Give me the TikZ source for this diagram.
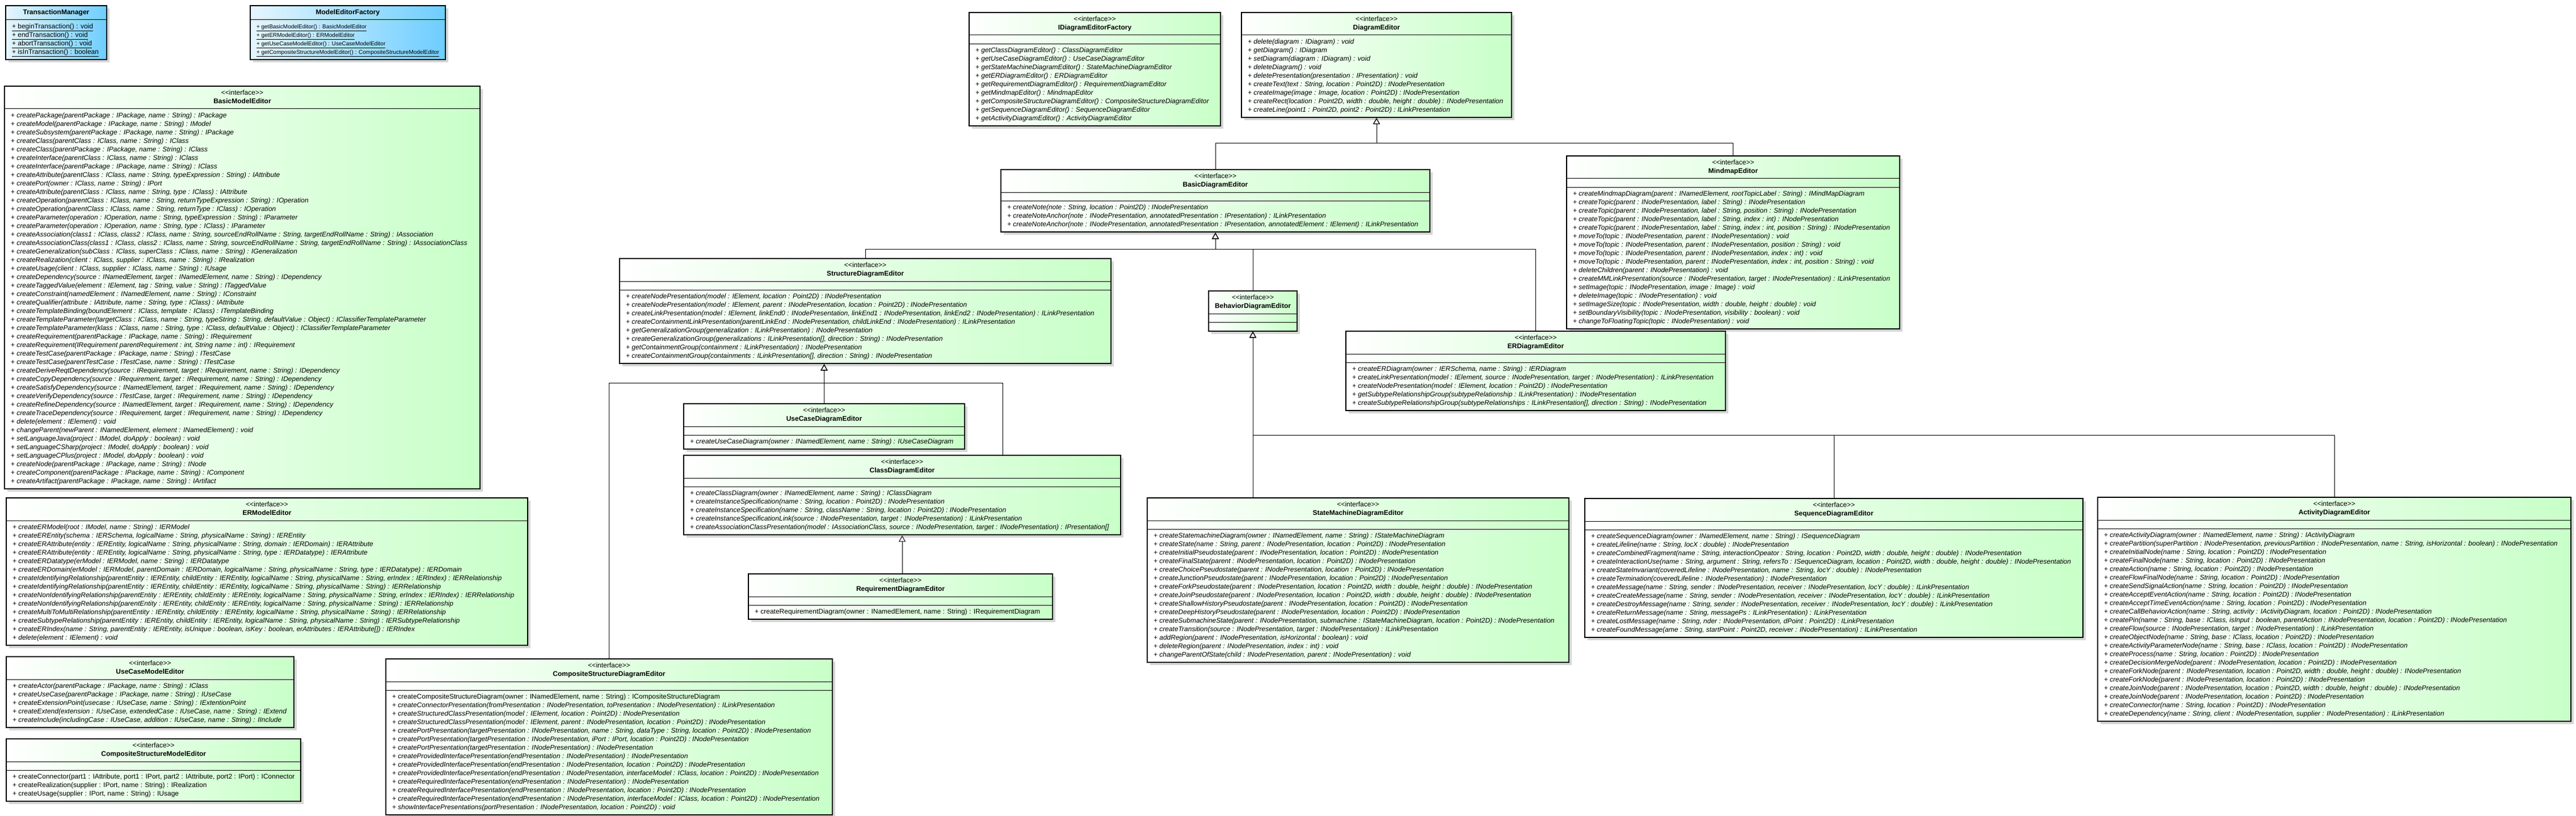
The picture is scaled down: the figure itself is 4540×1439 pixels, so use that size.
\documentclass[tikz,border=0pt]{standalone}
\usepackage{fontspec}
\setmainfont{Liberation Sans}
\usepackage{tikz}
\usetikzlibrary{shapes.multipart, shadows, arrows.meta, calc, positioning}
\definecolor{umlgreen}{RGB}{200,255,200}
\definecolor{umlblue}{RGB}{110,205,255}

\begin{document}
\begin{tikzpicture}[x=1pt, y=-1pt]
    \useasboundingbox (0, 0) rectangle (4540, 1439);
    % Setup the style for the classes
        \tikzset{class style/.style={rectangle split,
                                     rectangle split parts=3,
                                     rectangle split draw splits=false,
                                     rectangle split part align={center, left, left},
                                     anchor=north west,
                                     draw, line width=2pt,
                                     inner xsep=11pt, inner ysep=4pt,
                                     left color=white, right color=umlgreen,
                                     drop shadow={shadow xshift=5pt, shadow yshift=-5pt, fill=black!16, opacity=1},
                                     font=\fontsize{12}{15}\selectfont},
                 model style/.style={class style, rectangle split parts=2},
                 util style/.style={model style, left color=umlblue!18!white, right color=umlblue},
                 split style/.style={line width=1pt},
                 gen style/.style={line width=1pt, -{Triangle[open, length=11pt, width=12pt]}}}
        % Draw the utility classes
        \node[util style, minimum width=178pt] at (9, 9) (tm)
            {\begin{tabular}{@{}c@{}}\textbf{TransactionManager}\end{tabular}
             \nodepart{two}\begin{tabular}{@{}l@{}}
             \underline{+ beginTransaction() : void}\\
             \underline{+ endTransaction() : void}\\
             \underline{+ abortTransaction() : void}\\
             \underline{+ isInTransaction() : boolean}
             \end{tabular}};
        \node[util style, minimum width=300pt, font=\fontsize{10}{15}\selectfont] at (440, 9) (mef)
            {\fontsize{12}{15}\selectfont\begin{tabular}{@{}c@{}}\textbf{ModelEditorFactory}\end{tabular}
             \nodepart{two}\begin{tabular}{@{}l@{}}
             \underline{+ getBasicModelEditor() : BasicModelEditor}\\
             \underline{+ getERModelEditor() : ERModelEditor}\\
             \underline{+ getUseCaseModelEditor() : UseCaseModelEditor}\\
             \underline{+ getCompositeStructureModelEditor() : CompositeStructureModelEditor}
             \end{tabular}};
        % Draw the model editors
        \node[model style, minimum width=838pt] at (7, 151) (bme)
            {\begin{tabular}{@{}c@{}}<{}<interface>{}>\\\textbf{BasicModelEditor}\end{tabular}
             \nodepart{two}\itshape\begin{tabular}{@{}l@{}}
             + createPackage(parentPackage : IPackage, name : String) : IPackage\\
             + createModel(parentPackage : IPackage, name : String) : IModel\\
             + createSubsystem(parentPackage : IPackage, name : String) : IPackage\\
             + createClass(parentClass : IClass, name : String) : IClass\\
             + createClass(parentPackage : IPackage, name : String) : IClass\\
             + createInterface(parentClass : IClass, name : String) : IClass\\
             + createInterface(parentPackage : IPackage, name : String) : IClass\\
             + createAttribute(parentClass : IClass, name : String, typeExpression : String) : IAttribute\\
             + createPort(owner : IClass, name : String) : IPort\\
             + createAttribute(parentClass : IClass, name : String, type : IClass) : IAttribute\\
             + createOperation(parentClass : IClass, name : String, returnTypeExpression : String) : IOperation\\
             + createOperation(parentClass : IClass, name : String, returnType : IClass) : IOperation\\
             + createParameter(operation : IOperation, name : String, typeExpression : String) : IParameter\\
             + createParameter(operation : IOperation, name : String, type : IClass) : IParameter\\
             + createAssociation(class1 : IClass, class2 : IClass, name : String, sourceEndRollName : String, targetEndRollName : String) : IAssociation\\
             + createAssociationClass(class1 : IClass, class2 : IClass, name : String, sourceEndRollName : String, targetEndRollName : String) : IAssociationClass\\
             + createGeneralization(subClass : IClass, superClass : IClass, name : String) : IGeneralization\\
             + createRealization(client : IClass, supplier : IClass, name : String) : IRealization\\
             + createUsage(client : IClass, supplier : IClass, name : String) : IUsage\\
             + createDependency(source : INamedElement, target : INamedElement, name : String) : IDependency\\
             + createTaggedValue(element : IElement, tag : String, value : String) : ITaggedValue\\
             + createConstraint(namedElement : INamedElement, name : String) : IConstraint\\
             + createQualifier(attribute : IAttribute, name : String, type : IClass) : IAttribute\\
             + createTemplateBinding(boundElement : IClass, template : IClass) : ITemplateBinding\\
             + createTemplateParameter(targetClass : IClass, name : String, typeString : String, defaultValue : Object) : IClassifierTemplateParameter\\
             + createTemplateParameter(klass : IClass, name : String, type : IClass, defaultValue : Object) : IClassifierTemplateParameter\\
             + createRequirement(parentPackage : IPackage, name : String) : IRequirement\\
             + createRequirement(IRequirement parentRequirement : int, String name : int) : IRequirement\\
             + createTestCase(parentPackage : IPackage, name : String) : ITestCase\\
             + createTestCase(parentTestCase : ITestCase, name : String) : ITestCase\\
             + createDeriveReqtDependency(source : IRequirement, target : IRequirement, name : String) : IDependency\\
             + createCopyDependency(source : IRequirement, target : IRequirement, name : String) : IDependency\\
             + createSatisfyDependency(source : INamedElement, target : IRequirement, name : String) : IDependency\\
             + createVerifyDependency(source : ITestCase, target : IRequirement, name : String) : IDependency\\
             + createRefineDependency(source : INamedElement, target : IRequirement, name : String) : IDependency\\
             + createTraceDependency(source : IRequirement, target : IRequirement, name : String) : IDependency\\
             + delete(element : IElement) : void\\
             + changeParent(newParent : INamedElement, element : INamedElement) : void\\
             + setLanguageJava(project : IModel, doApply : boolean) : void\\
             + setLanguageCSharp(project : IModel, doApply : boolean) : void\\
             + setLanguageCPlus(project : IModel, doApply : boolean) : void\\
             + createNode(parentPackage : IPackage, name : String) : INode\\
             + createComponent(parentPackage : IPackage, name : String) : IComponent\\
             + createArtifact(parentPackage : IPackage, name : String) : IArtifact
             \end{tabular}};
        \node[model style, minimum width=919pt] at (10, 877) (erme)
            {\begin{tabular}{@{}c@{}}<{}<interface>{}>\\\textbf{ERModelEditor}\end{tabular}
             \nodepart{two}\itshape\begin{tabular}{@{}l@{}}
             + createERModel(root : IModel, name : String) : IERModel\\
             + createEREntity(schema : IERSchema, logicalName : String, physicalName : String) : IEREntity\\
             + createERAttribute(entity : IEREntity, logicalName : String, physicalName : String, domain : IERDomain) : IERAttribute\\
             + createERAttribute(entity : IEREntity, logicalName : String, physicalName : String, type : IERDatatype) : IERAttribute\\
             + createERDatatype(erModel : IERModel, name : String) : IERDatatype\\
             + createERDomain(erModel : IERModel, parentDomain : IERDomain, logicalName : String, physicalName : String, type : IERDatatype) : IERDomain\\
             + createIdentifyingRelationship(parentEntity : IEREntity, childEntity : IEREntity, logicalName : String, physicalName : String, erIndex : IERIndex) : IERRelationship\\
             + createIdentifyingRelationship(parentEntity : IEREntity, childEntity : IEREntity, logicalName : String, physicalName : String) : IERRelationship\\
             + createNonIdentifyingRelationship(parentEntity : IEREntity, childEntity : IEREntity, logicalName : String, physicalName : String, erIndex : IERIndex) : IERRelationship\\
             + createNonIdentifyingRelationship(parentEntity : IEREntity, childEntity : IEREntity, logicalName : String, physicalName : String) : IERRelationship\\
             + createMultiToMultiRelationship(parentEntity : IEREntity, childEntity : IEREntity, logicalName : String, physicalName : String) : IERRelationship\\
             + createSubtypeRelationship(parentEntity : IEREntity, childEntity : IEREntity, logicalName : String, physicalName : String) : IERSubtypeRelationship\\
             + createERIndex(name : String, parentEntity : IEREntity, isUnique : boolean, isKey : boolean, erAttributes : IERAttribute[]) : IERIndex\\
             + delete(element : IElement) : void
             \end{tabular}};
        \node[model style, minimum width=507pt] at (10, 1157) (ucme)
            {\begin{tabular}{@{}c@{}}<{}<interface>{}>\\\textbf{UseCaseModelEditor}\end{tabular}
             \nodepart{two}\itshape\begin{tabular}{@{}l@{}}
             + createActor(parentPackage : IPackage, name : String) : IClass\\
             + createUseCase(parentPackage : IPackage, name : String) : IUseCase\\
             + createExtensionPoint(usecase : IUseCase, name : String) : IExtentionPoint\\
             + createExtend(extension : IUseCase, extendedCase : IUseCase, name : String) : IExtend\\
             + createInclude(includingCase : IUseCase, addition : IUseCase, name : String) : IInclude
             \end{tabular}};
        \node[class style, minimum width=507pt] at (10, 1302) (csme)
            {\begin{tabular}{@{}c@{}}<{}<interface>{}>\\\textbf{CompositeStructureModelEditor}\end{tabular}
             \nodepart{two}
             \nodepart{three}\begin{tabular}{@{}l@{}}
             + createConnector(part1 : IAttribute, port1 : IPort, part2 : IAttribute, port2 : IPort) : IConnector\\
             + createRealization(supplier : IPort, name : String) : IRealization\\
             + createUsage(supplier : IPort, name : String) : IUsage
             \end{tabular}};
        % Draw the diagram editors
        \node[class style, minimum width=443pt] at (1707, 21) (idef)
            {\begin{tabular}{@{}c@{}}<{}<interface>{}>\\\textbf{IDiagramEditorFactory}\end{tabular}
             \nodepart{two}
             \nodepart{three}\itshape\begin{tabular}{@{}l@{}}
             + getClassDiagramEditor() : ClassDiagramEditor\\
             + getUseCaseDiagramEditor() : UseCaseDiagramEditor\\
             + getStateMachineDiagramEditor() : StateMachineDiagramEditor\\
             + getERDiagramEditor() : ERDiagramEditor\\
             + getRequirementDiagramEditor() : RequirementDiagramEditor\\
             + getMindmapEditor() : MindmapEditor\\
             + getCompositeStructureDiagramEditor() : CompositeStructureDiagramEditor\\
             + getSequenceDiagramEditor() : SequenceDiagramEditor\\
             + getActivityDiagramEditor() : ActivityDiagramEditor
             \end{tabular}};
        \node[model style, minimum width=476pt] at (2187, 21) (de)
            {\begin{tabular}{@{}c@{}}<{}<interface>{}>\\\textbf{DiagramEditor}\end{tabular}
             \nodepart{two}\itshape\begin{tabular}{@{}l@{}}
             + delete(diagram : IDiagram) : void\\
             + getDiagram() : IDiagram\\
             + setDiagram(diagram : IDiagram) : void\\
             + deleteDiagram() : void\\
             + deletePresentation(presentation : IPresentation) : void\\
             + createText(text : String, location : Point2D) : INodePresentation\\
             + createImage(image : Image, location : Point2D) : INodePresentation\\
             + createRect(location : Point2D, width : double, height : double) : INodePresentation\\
             + createLine(point1 : Point2D, point2 : Point2D) : ILinkPresentation
             \end{tabular}};
        \node[class style, minimum width=756pt] at (1763, 298) (bde)
            {\begin{tabular}{@{}c@{}}<{}<interface>{}>\\\textbf{BasicDiagramEditor}\end{tabular}
             \nodepart{two}
             \nodepart{three}\itshape\begin{tabular}{@{}l@{}}
             + createNote(note : String, location : Point2D) : INodePresentation\\
             + createNoteAnchor(note : INodePresentation, annotatedPresentation : IPresentation) : ILinkPresentation\\
             + createNoteAnchor(note : INodePresentation, annotatedPresentation : IPresentation, annotatedElement : IElement) : ILinkPresentation
             \end{tabular}};
        \node[class style, minimum width=587pt] at (2760, 274) (mme)
            {\begin{tabular}{@{}c@{}}<{}<interface>{}>\\\textbf{MindmapEditor}\end{tabular}
             \nodepart{two}
             \nodepart{three}\itshape\begin{tabular}{@{}l@{}}
             + createMindmapDiagram(parent : INamedElement, rootTopicLabel : String) : IMindMapDiagram\\
             + createTopic(parent : INodePresentation, label : String) : INodePresentation\\
             + createTopic(parent : INodePresentation, label : String, position : String) : INodePresentation\\
             + createTopic(parent : INodePresentation, label : String, index : int) : INodePresentation\\
             + createTopic(parent : INodePresentation, label : String, index : int, position : String) : INodePresentation\\
             + moveTo(topic : INodePresentation, parent : INodePresentation) : void\\
             + moveTo(topic : INodePresentation, parent : INodePresentation, position : String) : void\\
             + moveTo(topic : INodePresentation, parent : INodePresentation, index : int) : void\\
             + moveTo(topic : INodePresentation, parent : INodePresentation, index : int, position : String) : void\\
             + deleteChildren(parent : INodePresentation) : void\\
             + createMMLinkPresentation(source : INodePresentation, target : INodePresentation) : ILinkPresentation\\
             + setImage(topic : INodePresentation, image : Image) : void\\
             + deleteImage(topic : INodePresentation) : void\\
             + setImageSize(topic : INodePresentation, width : double, height : double) : void\\
             + setBoundaryVisibility(topic : INodePresentation, visibility : boolean) : void\\
             + changeToFloatingTopic(topic : INodePresentation) : void
             \end{tabular}};
        \node[class style, minimum width=866pt] at (1091, 455) (sde)
            {\begin{tabular}{@{}c@{}}<{}<interface>{}>\\\textbf{StructureDiagramEditor}\end{tabular}
             \nodepart{two}
             \nodepart{three}\itshape\begin{tabular}{@{}l@{}}
             + createNodePresentation(model : IElement, location : Point2D) : INodePresentation\\
             + createNodePresentation(model : IElement, parent : INodePresentation, location : Point2D) : INodePresentation\\
             + createLinkPresentation(model : IElement, linkEnd0 : INodePresentation, linkEnd1 : INodePresentation, linkEnd2 : INodePresentation) : ILinkPresentation\\
             + createContainmentLinkPresentation(parentLinkEnd : INodePresentation, childLinkEnd : INodePresentation) : ILinkPresentation\\
             + getGeneralizationGroup(generalization : ILinkPresentation) : INodePresentation\\
             + createGeneralizationGroup(generalizations : ILinkPresentation[], direction : String) : INodePresentation\\
             + getContainmentGroup(containment : ILinkPresentation) : INodePresentation\\
             + createContainmentGroup(containments : ILinkPresentation[], direction : String) : INodePresentation
             \end{tabular}};
        \node[class style, minimum width=150pt] at (2129, 512) (bhde)
            {\begin{tabular}{@{}c@{}}<{}<interface>{}>\\\textbf{BehaviorDiagramEditor}\end{tabular}
             \nodepart{two}
             \nodepart{three}};
        \node[class style, minimum width=669pt] at (2371, 583) (erde)
            {\begin{tabular}{@{}c@{}}<{}<interface>{}>\\\textbf{ERDiagramEditor}\end{tabular}
             \nodepart{two}
             \nodepart{three}\itshape\begin{tabular}{@{}l@{}}
             + createERDiagram(owner : IERSchema, name : String) : IERDiagram\\
             + createLinkPresentation(model : IElement, source : INodePresentation, target : INodePresentation) : ILinkPresentation\\
             + createNodePresentation(model : IElement, location : Point2D) : INodePresentation\\
             + getSubtypeRelationshipGroup(subtypeRelationship : ILinkPresentation) : INodePresentation\\
             + createSubtypeRelationshipGroup(subtypeRelationships : ILinkPresentation[], direction : String) : INodePresentation
             \end{tabular}};
        \node[class style, minimum width=495pt] at (1204, 711) (ucde)
            {\begin{tabular}{@{}c@{}}<{}<interface>{}>\\\textbf{UseCaseDiagramEditor}\end{tabular}
             \nodepart{two}
             \nodepart{three}\itshape\begin{tabular}{@{}l@{}}
             + createUseCaseDiagram(owner : INamedElement, name : String) : IUseCaseDiagram
             \end{tabular}};
        \node[class style, minimum width=770pt] at (1204, 802) (cde)
            {\begin{tabular}{@{}c@{}}<{}<interface>{}>\\\textbf{ClassDiagramEditor}\end{tabular}
             \nodepart{two}
             \nodepart{three}\itshape\begin{tabular}{@{}l@{}}
             + createClassDiagram(owner : INamedElement, name : String) : IClassDiagram\\
             + createInstanceSpecification(name : String, location : Point2D) : INodePresentation\\
             + createInstanceSpecification(name : String, className : String, location : Point2D) : INodePresentation\\
             + createInstanceSpecificationLink(source : INodePresentation, target : INodePresentation) : ILinkPresentation\\
             + createAssociationClassPresentation(model : IAssociationClass, source : INodePresentation, target : INodePresentation) : IPresentation[]
             \end{tabular}};
        \node[class style, minimum width=536pt] at (1318, 1011) (rde)
            {\begin{tabular}{@{}c@{}}<{}<interface>{}>\\\textbf{RequirementDiagramEditor}\end{tabular}
             \nodepart{two}
             \nodepart{three}\begin{tabular}{@{}l@{}}
             + createRequirementDiagram(owner : INamedElement, name : String) : IRequirementDiagram
             \end{tabular}};
        \node[class style, minimum width=787pt] at (679, 1161) (csde)
            {\begin{tabular}{@{}c@{}}<{}<interface>{}>\\\textbf{CompositeStructureDiagramEditor}\end{tabular}
             \nodepart{two}
             \nodepart{three}\itshape\begin{tabular}{@{}l@{}}
             \upshape + createCompositeStructureDiagram(owner : INamedElement, name : String) : ICompositeStructureDiagram\\
             + createConnectorPresentation(fromPresentation : INodePresentation, toPresentation : INodePresentation) : ILinkPresentation\\
             + createStructuredClassPresentation(model : IElement, location : Point2D) : INodePresentation\\
             + createStructuredClassPresentation(model : IElement, parent : INodePresentation, location : Point2D) : INodePresentation\\
             + createPortPresentation(targetPresentation : INodePresentation, name : String, dataType : String, location : Point2D) : INodePresentation\\
             + createPortPresentation(targetPresentation : INodePresentation, iPort : IPort, location : Point2D) : INodePresentation\\
             + createPortPresentation(targetPresentation : INodePresentation) : INodePresentation\\
             + createProvidedInterfacePresentation(endPresentation : INodePresentation) : INodePresentation\\
             + createProvidedInterfacePresentation(endPresentation : INodePresentation, location : Point2D) : INodePresentation\\
             + createProvidedInterfacePresentation(endPresentation : INodePresentation, interfaceModel : IClass, location : Point2D) : INodePresentation\\
             + createRequiredInterfacePresentation(endPresentation : INodePresentation) : INodePresentation\\
             + createRequiredInterfacePresentation(endPresentation : INodePresentation, location : Point2D) : INodePresentation\\
             + createRequiredInterfacePresentation(endPresentation : INodePresentation, interfaceModel : IClass, location : Point2D) : INodePresentation\\
             + showInterfacePresentations(portPresentation : INodePresentation, location : Point2D) : void
             \end{tabular}};
        \node[class style, minimum width=743pt] at (2021, 877) (smde)
            {\begin{tabular}{@{}c@{}}<{}<interface>{}>\\\textbf{StateMachineDiagramEditor}\end{tabular}
             \nodepart{two}
             \nodepart{three}\itshape\begin{tabular}{@{}l@{}}
             + createStatemachineDiagram(owner : INamedElement, name : String) : IStateMachineDiagram\\
             + createState(name : String, parent : INodePresentation, location : Point2D) : INodePresentation\\
             + createInitialPseudostate(parent : INodePresentation, location : Point2D) : INodePresentation\\
             + createFinalState(parent : INodePresentation, location : Point2D) : INodePresentation\\
             + createChoicePseudostate(parent : INodePresentation, location : Point2D) : INodePresentation\\
             + createJunctionPseudostate(parent : INodePresentation, location : Point2D) : INodePresentation\\
             + createForkPseudostate(parent : INodePresentation, location : Point2D, width : double, height : double) : INodePresentation\\
             + createJoinPseudostate(parent : INodePresentation, location : Point2D, width : double, height : double) : INodePresentation\\
             + createShallowHistoryPseudostate(parent : INodePresentation, location : Point2D) : INodePresentation\\
             + createDeepHistoryPseudostate(parent : INodePresentation, location : Point2D) : INodePresentation\\
             + createSubmachineState(parent : INodePresentation, submachine : IStateMachineDiagram, location : Point2D) : INodePresentation\\
             + createTransition(source : INodePresentation, target : INodePresentation) : ILinkPresentation\\
             + addRegion(parent : INodePresentation, isHorizontal : boolean) : void\\
             + deleteRegion(parent : INodePresentation, index : int) : void\\
             + changeParentOfState(child : INodePresentation, parent : INodePresentation) : void
             \end{tabular}};
        \node[class style, minimum width=878pt] at (2792, 878) (sqde)
            {\begin{tabular}{@{}c@{}}<{}<interface>{}>\\\textbf{SequenceDiagramEditor}\end{tabular}
             \nodepart{two}
             \nodepart{three}\itshape\begin{tabular}{@{}l@{}}
             + createSequenceDiagram(owner : INamedElement, name : String) : ISequenceDiagram\\
             + createLifeline(name : String, locX : double) : INodePresentation\\
             + createCombinedFragment(name : String, interactionOpeator : String, location : Point2D, width : double, height : double) : INodePresentation\\
             + createInteractionUse(name : String, argument : String, refersTo : ISequenceDiagram, location : Point2D, width : double, height : double) : INodePresentation\\
             + createStateInvariant(coveredLifeline : INodePresentation, name : String, locY : double) : INodePresentation\\
             + createTermination(coveredLifeline : INodePresentation) : INodePresentation\\
             + createMessage(name : String, sender : INodePresentation, receiver : INodePresentation, locY : double) : ILinkPresentation\\
             + createCreateMessage(name : String, sender : INodePresentation, receiver : INodePresentation, locY : double) : ILinkPresentation\\
             + createDestroyMessage(name : String, sender : INodePresentation, receiver : INodePresentation, locY : double) : ILinkPresentation\\
             + createReturnMessage(name : String, messagePs : ILinkPresentation) : ILinkPresentation\\
             + createLostMessage(name : String, nder : INodePresentation, dPoint : Point2D) : ILinkPresentation\\
             + createFoundMessage(ame : String, startPoint : Point2D, receiver : INodePresentation) : ILinkPresentation
             \end{tabular}};
        \node[class style, minimum width=834pt] at (3696, 876) (ade)
            {\begin{tabular}{@{}c@{}}<{}<interface>{}>\\\textbf{ActivityDiagramEditor}\end{tabular}
             \nodepart{two}
             \nodepart{three}\itshape\begin{tabular}{@{}l@{}}
             + createActivityDiagram(owner : INamedElement, name : String) : IActivityDiagram\\
             + createPartition(superPartition : INodePresentation, previousPartition : INodePresentation, name : String, isHorizontal : boolean) : INodePresentation\\
             + createInitialNode(name : String, location : Point2D) : INodePresentation\\
             + createFinalNode(name : String, location : Point2D) : INodePresentation\\
             + createAction(name : String, location : Point2D) : INodePresentation\\
             + createFlowFinalNode(name : String, location : Point2D) : INodePresentation\\
             + createSendSignalAction(name : String, location : Point2D) : INodePresentation\\
             + createAcceptEventAction(name : String, location : Point2D) : INodePresentation\\
             + createAcceptTimeEventAction(name : String, location : Point2D) : INodePresentation\\
             + createCallBehaviorAction(name : String, activity : IActivityDiagram, location : Point2D) : INodePresentation\\
             + createPin(name : String, base : IClass, isInput : boolean, parentAction : INodePresentation, location : Point2D) : INodePresentation\\
             + createFlow(source : INodePresentation, target : INodePresentation) : ILinkPresentation\\
             + createObjectNode(name : String, base : IClass, location : Point2D) : INodePresentation\\
             + createActivityParameterNode(name : String, base : IClass, location : Point2D) : INodePresentation\\
             + createProcess(name : String, location : Point2D) : INodePresentation\\
             + createDecisionMergeNode(parent : INodePresentation, location : Point2D) : INodePresentation\\
             + createForkNode(parent : INodePresentation, location : Point2D, width : double, height : double) : INodePresentation\\
             + createForkNode(parent : INodePresentation, location : Point2D) : INodePresentation\\
             + createJoinNode(parent : INodePresentation, location : Point2D, width : double, height : double) : INodePresentation\\
             + createJoinNode(parent : INodePresentation, location : Point2D) : INodePresentation\\
             + createConnector(name : String, location : Point2D) : INodePresentation\\
             + createDependency(name : String, client : INodePresentation, supplier : INodePresentation) : ILinkPresentation
             \end{tabular}};
        % Draw the compartment lines
        \foreach \n in {tm, mef, bme, erme, ucme, de}
            \draw[split style] (\n.text split west) -- (\n.text split east);
        \foreach \n in {csme, idef, bde, mme, sde, bhde, erde, ucde, cde, rde, csde, smde, sqde, ade}
            {\draw[split style] (\n.text split west) -- (\n.text split east);
             \draw[split style] (\n.two split west) -- (\n.two split east);}
        % Connect the classes with generalizations
        \draw[gen style] (bde.north) |- (de.south |- 0,253) -- (de.south);
        \draw[gen style] (mme.north) |- (de.south |- 0,253) -- (de.south);
        \draw[gen style] (sde.north) |- (bde.south |- 0,439) -- (bde.south);
        \draw[gen style] (bhde.north) |- (bde.south |- 0,439) -- (bde.south);
        \draw[gen style] (erde.north) |- (bde.south |- 0,439) -- (bde.south);
        \draw[gen style] (ucde.north) -- (ucde.north |- sde.south);
        \draw[gen style] (csde.north) |- (ucde.north |- 0,675) -- (ucde.north |- sde.south);
        \draw[gen style] ($(cde.north)+(177,0)$) |- (ucde.north |- 0,675) -- (ucde.north |- sde.south);
        \draw[gen style] (rde.north -| cde.south) -- (cde.south);
        \draw[gen style] (smde.north -| bhde.south) -- (bhde.south);
        \draw[gen style] (sqde.north) |- (bhde.south |- 0,767) -- (bhde.south);
        \draw[gen style] (ade.north) |- (bhde.south |- 0,767) -- (bhde.south);
\end{tikzpicture}
\end{document}
